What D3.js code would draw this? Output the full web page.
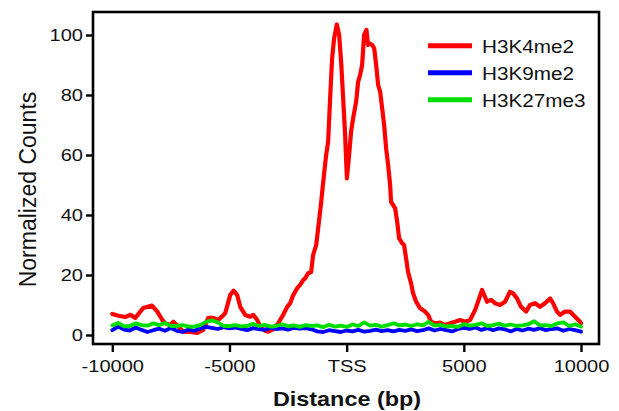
<!DOCTYPE html>
<html>
<head>
<meta charset="utf-8">
<script src="https://cdn.jsdelivr.net/npm/d3@7"></script>
<style>
  html, body { margin: 0; padding: 0; background: #fff; }
  svg { display: block; font-family: "Liberation Sans", Arial, sans-serif; }
</style>
</head>
<body>
<svg id="chart" width="619" height="411"></svg>
<script>
// H3K4me2 profile: [distance from TSS (bp), normalized counts]
const h3k4me2 = [
  [-10000, 7.0], [-9740, 6.4], [-9445, 6.0], [-9230, 6.7], [-9020, 5.7], [-8680, 9.0],
  [-8305, 9.8], [-8080, 7.8], [-7865, 5.0], [-7740, 3.9], [-7525, 3.3], [-7400, 4.4],
  [-7185, 2.8], [-6970, 1.1], [-6675, 1.0], [-6375, 0.7], [-6120, 1.7], [-5905, 5.7],
  [-5690, 5.7], [-5480, 5.0], [-5310, 6.2], [-5180, 7.3], [-4970, 13.3], [-4825, 14.8],
  [-4670, 13.3], [-4540, 9.4], [-4330, 6.7], [-4115, 6.1], [-3985, 6.7], [-3815, 5.0],
  [-3690, 2.8], [-3475, 1.4], [-3345, 1.1], [-3135, 1.9], [-2920, 3.9], [-2710, 6.7],
  [-2535, 9.4], [-2410, 10.6], [-2280, 13.3], [-2110, 15.6], [-1985, 16.7], [-1855, 18.3],
  [-1770, 18.9], [-1640, 20.6], [-1515, 21.0], [-1430, 26.7], [-1300, 30.0], [-1215, 35.6],
  [-1085, 44.4], [-1000, 51.0], [-875, 60.0], [-790, 64.4], [-705, 78.9], [-620, 92.2],
  [-535, 98.9], [-420, 103.5], [-320, 100.0], [-235, 91.0], [-150, 79.0], [-65, 66.7],
  [10, 52.2], [105, 60.0], [190, 67.8], [275, 72.2], [405, 77.8], [490, 84.4],
  [575, 86.7], [660, 90.0], [745, 100.0], [845, 101.7], [915, 96.7], [970, 97.2],
  [1085, 96.7], [1175, 95.6], [1260, 90.0], [1345, 83.3], [1430, 81.1], [1515, 75.6],
  [1600, 70.0], [1685, 62.2], [1770, 56.7], [1855, 50.0], [1895, 44.4], [1985, 43.3],
  [2070, 42.2], [2155, 37.8], [2240, 32.2], [2365, 30.6], [2450, 30.0], [2535, 25.6],
  [2620, 21.0], [2750, 17.2], [2835, 13.9], [2965, 11.1], [3135, 8.9], [3345, 7.8],
  [3475, 6.7], [3605, 4.4], [3775, 3.9], [3985, 4.1], [4200, 3.3], [4415, 3.9],
  [4625, 4.4], [4840, 5.0], [5055, 4.4], [5265, 5.0], [5480, 8.3], [5780, 15.0],
  [5990, 11.1], [6160, 11.7], [6330, 10.6], [6545, 10.0], [6760, 11.1], [6970, 14.4],
  [7100, 13.9], [7270, 12.2], [7440, 9.4], [7655, 7.8], [7825, 10.0], [8040, 10.6],
  [8250, 9.4], [8465, 10.6], [8680, 12.2], [8805, 10.6], [8975, 7.8], [9105, 6.7],
  [9315, 7.8], [9530, 7.8], [9745, 6.1], [9955, 4.4], [10000, 3.9]
];

// 250 bp bins from -10000 to 10000
const binsBp = d3.range(-10000, 10001, 250);

const h3k9me2 = [
  1.6, 2.8, 1.8, 1.5, 2.5, 1.7, 1.0, 1.6, 2.1, 1.4,
  2.3, 1.4, 1.0, 1.8, 1.4, 2.2, 2.7, 2.4, 2.0, 2.6,
  2.2, 2.5, 2.0, 1.6, 2.3, 2.0, 1.7, 2.4, 2.0, 2.2,
  1.8, 2.4, 2.1, 2.3, 1.9, 1.2, 1.0, 1.6, 1.3, 1.0,
  1.5, 1.2, 1.7, 1.1, 1.4, 1.8, 1.3, 1.6, 1.2, 1.7,
  1.4, 1.9, 1.3, 1.6, 2.2, 1.5, 2.0, 1.6, 1.2, 2.0,
  2.4, 2.0, 2.5, 1.7, 2.3, 1.6, 2.2, 1.9, 1.2, 2.0,
  1.5, 2.1, 1.7, 2.3, 1.6, 2.0, 2.2, 1.4, 2.0, 1.6,
  1.1
];

const h3k27me3 = [
  3.2, 4.0, 2.9, 3.0, 3.9, 3.3, 3.1, 3.9, 3.3, 4.0,
  3.0, 3.0, 3.3, 2.8, 2.8, 3.3, 4.4, 4.9, 4.2, 3.0,
  3.0, 3.3, 2.9, 3.0, 3.7, 3.0, 3.4, 2.8, 3.0, 3.6,
  2.9, 3.2, 2.7, 3.3, 3.0, 3.2, 2.6, 3.4, 2.8, 3.1,
  2.7, 3.5, 3.0, 4.2, 3.1, 3.4, 2.8, 3.3, 3.9, 3.2,
  3.5, 3.0, 3.6, 3.2, 4.4, 3.1, 3.4, 2.9, 3.0, 2.7,
  3.6, 3.1, 3.4, 3.9, 3.0, 3.3, 3.8, 3.1, 3.5, 3.0,
  3.2, 3.6, 4.6, 3.2, 3.3, 3.0, 3.9, 4.2, 3.0, 3.6,
  2.8
];

const xTicks = [-10000, -5000, 0, 5000, 10000];
const xTickLabels = ['-10000', '-5000', 'TSS', '5000', '10000'];
const yTicks = [0, 20, 40, 60, 80, 100];

const seriesNames = ['H3K4me2', 'H3K9me2', 'H3K27me3'];
const seriesColors = ['#ff0000', '#0000ff', '#00dd00'];

const svg = d3.select('#chart');

// frame / plot area
const frame = { left: 93, right: 599, top: 12, bottom: 344 };

const x = d3.scaleLinear().domain([-10000, 10000]).range([112.3, 581]);
const y = d3.scaleLinear().domain([0, 100]).range([335, 35]);

// the glyphs in the reference are a bit wider than Arial, so widen text horizontally
function stretchX(sel, sx) {
  sel.each(function () {
    const t = d3.select(this);
    const tx = +t.attr('x') || 0;
    t.attr('transform', `translate(${tx},0) scale(${sx},1) translate(${-tx},0)`);
  });
}

// data lines (red first, green on top)
const line = d3.line()
  .x(d => x(d[0]))
  .y(d => y(d[1]));

const lineData = [
  h3k4me2,
  binsBp.map((b, i) => [b, h3k9me2[i]]),
  binsBp.map((b, i) => [b, h3k27me3[i]])
];

svg.append('g')
  .selectAll('path')
  .data(lineData)
  .enter()
  .append('path')
  .attr('d', line)
  .attr('fill', 'none')
  .attr('stroke', (d, i) => seriesColors[i])
  .attr('stroke-width', (d, i) => i === 0 ? 4.2 : 3.8)
  .attr('stroke-linejoin', 'round')
  .attr('stroke-linecap', 'round');

// box around the plot
svg.append('rect')
  .attr('x', frame.left)
  .attr('y', frame.top)
  .attr('width', frame.right - frame.left)
  .attr('height', frame.bottom - frame.top)
  .attr('fill', 'none')
  .attr('stroke', '#000')
  .attr('stroke-width', 2.6);

// x axis
const xAxis = svg.append('g')
  .attr('transform', `translate(0,${frame.bottom})`)
  .call(d3.axisBottom(x)
    .tickValues(xTicks)
    .tickFormat((d, i) => xTickLabels[i])
    .tickSize(8)
    .tickPadding(8));
xAxis.select('.domain').remove();
xAxis.selectAll('.tick line').attr('stroke', '#000').attr('stroke-width', 2.4);
xAxis.selectAll('.tick text')
  .attr('fill', '#111')
  .style('font-size', '17px')
  .style('font-family', '"Liberation Sans", Arial, sans-serif')
  .call(stretchX, 1.18);

// y axis
const yAxis = svg.append('g')
  .attr('transform', `translate(${frame.left},0)`)
  .call(d3.axisLeft(y)
    .tickValues(yTicks)
    .tickSize(7)
    .tickPadding(3));
yAxis.select('.domain').remove();
yAxis.selectAll('.tick line').attr('stroke', '#000').attr('stroke-width', 2.4);
yAxis.selectAll('.tick text')
  .attr('fill', '#111')
  .style('font-size', '17px')
  .style('font-family', '"Liberation Sans", Arial, sans-serif')
  .call(stretchX, 1.18);

// axis titles
svg.append('text')
  .attr('x', 347)
  .attr('y', 406.5)
  .attr('text-anchor', 'middle')
  .style('font-size', '19.5px')
  .style('font-weight', 'bold')
  .attr('fill', '#111')
  .text('Distance (bp)')
  .call(stretchX, 1.2);

svg.append('text')
  .attr('transform', 'translate(36,189.5) rotate(-90)')
  .attr('text-anchor', 'middle')
  .style('font-size', '23px')
  .attr('fill', '#111')
  .text('Normalized Counts');

// legend
const legend = svg.append('g');
const legendRows = legend.selectAll('g')
  .data(seriesNames)
  .enter()
  .append('g')
  .attr('transform', (d, i) => `translate(0,${45.7 + i * 27})`);

legendRows.append('line')
  .attr('x1', 428)
  .attr('x2', 472)
  .attr('stroke', (d, i) => seriesColors[i])
  .attr('stroke-width', 5);

legendRows.append('text')
  .attr('x', 482)
  .attr('y', 7.3)
  .style('font-size', '19px')
  .attr('fill', '#111')
  .text(d => d)
  .call(stretchX, 1.09);
</script>
</body>
</html>
